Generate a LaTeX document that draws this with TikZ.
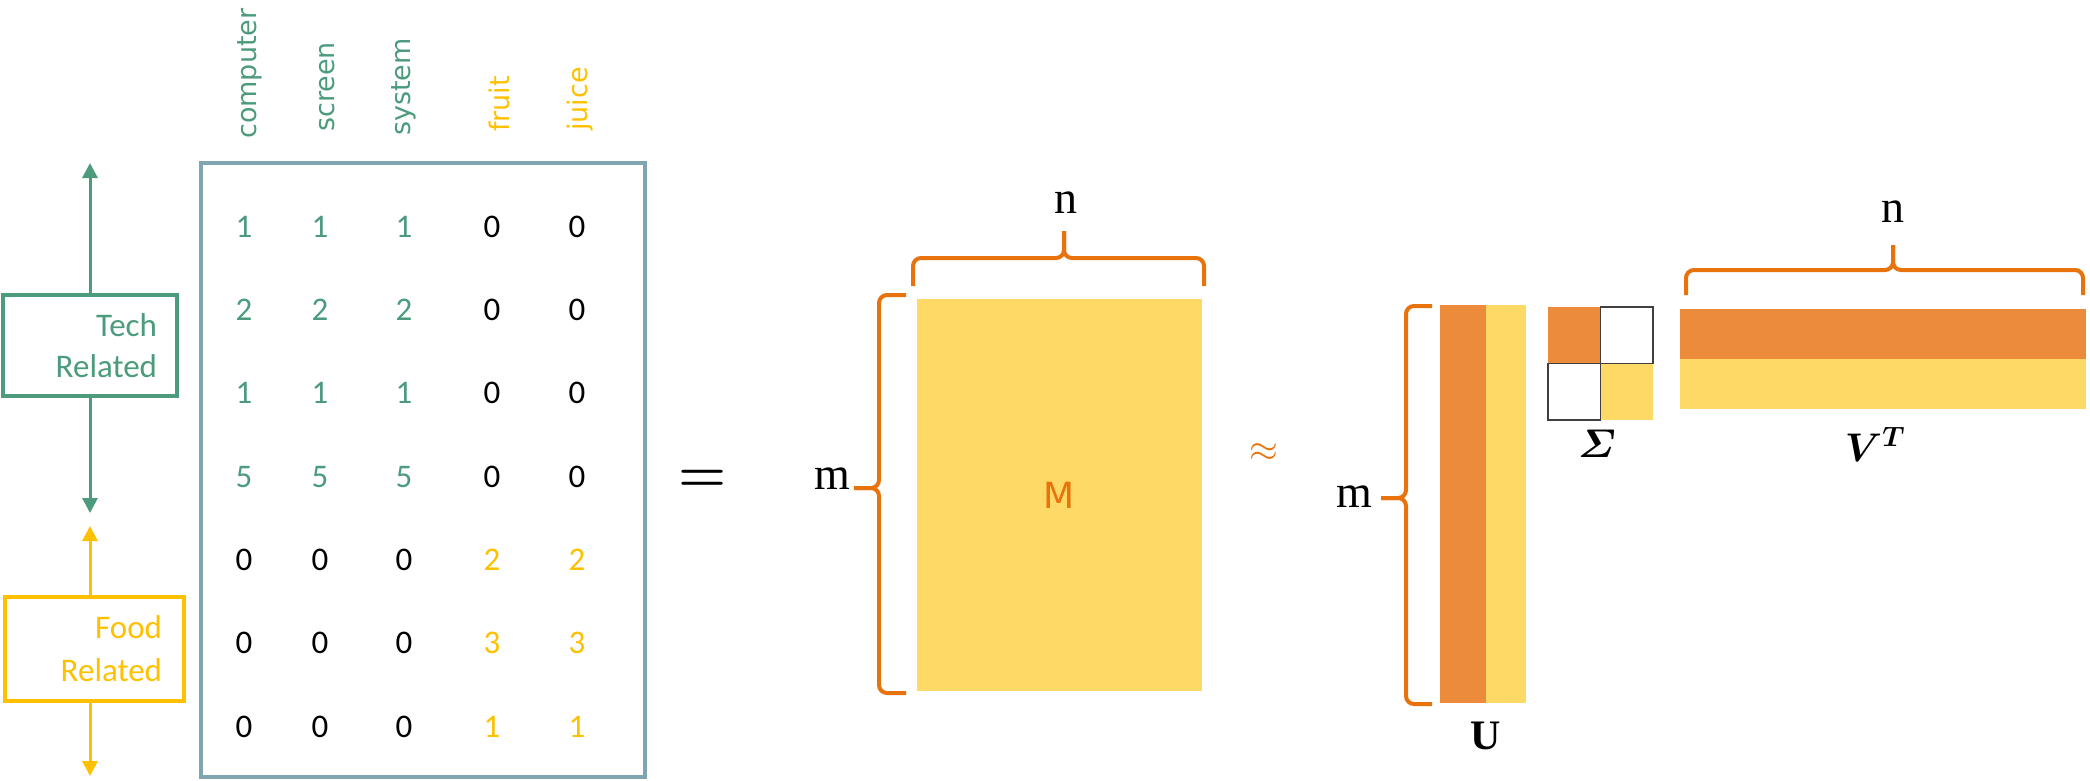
\RequirePackage{fix-cm}
\documentclass[tikz,border=0pt]{standalone}
\usepackage{amsmath,bm}
\usepackage{fontspec}
\setmainfont{Carlito}
\newfontfamily\labfont{DejaVu Sans}
\newfontfamily\serfont{Liberation Serif}
\usetikzlibrary{arrows.meta}
\definecolor{techgreen}{RGB}{76,155,125}
\definecolor{foodgold}{RGB}{255,192,0}
\definecolor{boxblue}{RGB}{127,166,176}
\definecolor{braceor}{RGB}{232,114,12}
\definecolor{darkor}{RGB}{237,139,60}
\definecolor{lightyel}{RGB}{254,217,102}
\definecolor{cellgray}{RGB}{64,64,64}
\tikzset{
  num/.style={font=\fontsize{33}{40}\selectfont, inner sep=0pt},
  collab/.style={font=\labfont\fontsize{27}{32}\selectfont, rotate=90, anchor=west, inner sep=0pt},
  catbox/.style={draw, line width=3.5pt, inner sep=0pt, align=right},
  catarrow/.style={line width=3pt, -{Triangle[width=15pt,length=15pt]}},
  bracepath/.style={draw=braceor, line width=4pt, rounded corners=8pt},
  dimlab/.style={font=\serfont\fontsize{46}{46}\selectfont, inner sep=0pt, anchor=base},
  mathlab/.style={font=\fontsize{40}{40}\selectfont, inner sep=0pt, anchor=base},
  cell/.style={inner sep=0pt, minimum width=52.5pt, minimum height=56.5pt},
  band/.style={inner sep=0pt, minimum width=406pt, minimum height=50pt},
  ucol/.style={inner sep=0pt, minimum height=398pt},
}
\begin{document}
\begin{tikzpicture}[x=1pt,y=-1pt]
\useasboundingbox (0,0) rectangle (2090,780);

% category boxes and arrows
\node[catbox, draw=techgreen, text=techgreen, minimum width=174pt, minimum height=101pt,
      text width=134pt, font=\fontsize{33}{41}\selectfont] (tech) at (90,345.5) {Tech\\Related};
\node[catbox, draw=foodgold, text=foodgold, minimum width=179pt, minimum height=104pt,
      text width=135pt, font=\fontsize{33}{43}\selectfont] (food) at (94.5,649) {Food\\Related};
\coordinate (techtop) at (90,163);
\coordinate (techbot) at (90,513);
\coordinate (foodtop) at (90,526);
\coordinate (foodbot) at (90,776);
\draw[catarrow, techgreen] (tech.north -| techtop) -- (techtop);
\draw[catarrow, techgreen] (tech.south -| techbot) -- (techbot);
\draw[catarrow, foodgold] (food.north -| foodtop) -- (foodtop);
\draw[catarrow, foodgold] (food.south -| foodbot) -- (foodbot);

% term-document matrix
\node[draw=boxblue, line width=3.5pt, minimum width=444pt, minimum height=614pt, inner sep=0pt] (mat) at (423,470) {};
\node[collab, text=techgreen] (lcomputer) at (250,139) {computer};
\node[collab, text=techgreen] (lscreen) at (327,132) {screen};
\node[collab, text=techgreen] (lsystem) at (404,136) {system};
\node[collab, text=foodgold] (lfruit) at (499,132) {fruit};
\node[collab, text=foodgold] (ljuice) at (580,131) {juice};

\foreach \y/\a/\d/\ca/\cb [count=\i] in {227/1/0/techgreen/black, 310/2/0/techgreen/black,
    393/1/0/techgreen/black, 477/5/0/techgreen/black, 560/0/2/black/foodgold,
    643/0/3/black/foodgold, 727/0/1/black/foodgold}{
  \node[num, text=\ca] (v\i-1) at (244,\y) {\a};
  \node[num, text=\ca] (v\i-2) at (320,\y) {\a};
  \node[num, text=\ca] (v\i-3) at (404,\y) {\a};
  \node[num, text=\cb] (v\i-4) at (492,\y) {\d};
  \node[num, text=\cb] (v\i-5) at (577,\y) {\d};
}

\node[font=\fontsize{55}{55}\selectfont, inner sep=0pt] (eq) at (703,481) {$\boldsymbol{=}$};

% M matrix
\node[fill=lightyel, minimum width=285pt, minimum height=392pt, inner sep=0pt,
      text=braceor, font=\labfont\fontsize{36}{36}\selectfont] (Mmat) at (1059.5,495) {M};
\draw[bracepath] (913,286) -- (913,258) -- (1064,258) -- (1064,231);
\draw[bracepath] (1204,286) -- (1204,258) -- (1064,258) -- (1064,231);
\node[dimlab] (nM) at (1066,213) {n};
\draw[bracepath] (906,295) -- (879,295) -- (879,488) -- (854,488);
\draw[bracepath] (906,693) -- (879,693) -- (879,488) -- (854,488);
\node[dimlab] (mM) at (832,489) {m};

\node[text=braceor, font=\fontsize{37}{37}\selectfont, inner sep=0pt] (approx) at (1264,453) {$\approx$};

% U
\node[ucol, fill=darkor, minimum width=46pt] (U1) at (1463,504) {};
\node[ucol, fill=lightyel, minimum width=40pt] (U2) at (1506,504) {};
\node[inner sep=0pt, anchor=base, font=\serfont\bfseries\fontsize{42}{42}\selectfont] (Ulab) at (1486,749) {U};
\draw[bracepath] (1432,306) -- (1406,306) -- (1406,498) -- (1381,498);
\draw[bracepath] (1432,704) -- (1406,704) -- (1406,498) -- (1381,498);
\node[dimlab] (mU) at (1354,507) {m};

% Sigma
\node[cell, fill=darkor] (s11) at (1574.25,335.25) {};
\node[cell, fill=white, draw=cellgray, line width=1.5pt] (s12) at (1626.75,335.25) {};
\node[cell, fill=white, draw=cellgray, line width=1.5pt] (s21) at (1574.25,391.75) {};
\node[cell, fill=lightyel] (s22) at (1626.75,391.75) {};
\node[mathlab] (slab) at (1597,457) {$\bm{\varSigma}$};

% V^T
\node[band, fill=darkor] (V1) at (1883,334) {};
\node[band, fill=lightyel] (V2) at (1883,384) {};
\node[mathlab] (vlab) at (1875,461) {$\bm{V^{T}}$};
\draw[bracepath] (1686,295) -- (1686,270) -- (1893,270) -- (1893,245);
\draw[bracepath] (2083,295) -- (2083,270) -- (1893,270) -- (1893,245);
\node[dimlab] (nV) at (1893,222) {n};
\end{tikzpicture}
\end{document}
